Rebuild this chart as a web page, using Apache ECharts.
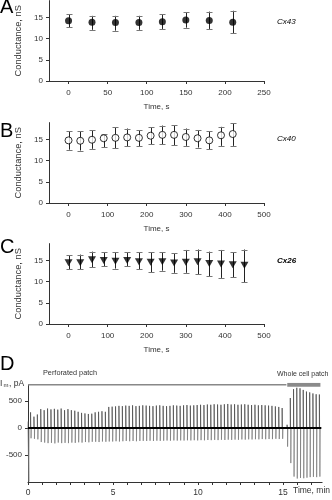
<!DOCTYPE html>
<html>
<head>
<meta charset="utf-8">
<script src="https://cdn.jsdelivr.net/npm/echarts@6/dist/echarts.min.js"></script>
<style>
html,body{margin:0;padding:0;background:#fff;}
#chart{width:332px;height:500px;}
</style>
</head>
<body>
<div id="chart"></div>
<script>
// ---- Panel A: Cx43 conductance (mean with error range), nS ----
const timeA  = [0, 30, 60, 90, 120, 150, 180, 210];
const meanA  = [14.25, 13.9, 13.8, 13.8, 14.0, 14.4, 14.3, 13.9];
const upperA = [15.8, 15.4, 15.4, 15.4, 15.8, 16.3, 16.4, 16.6];
const lowerA = [12.7, 12.1, 11.9, 12.1, 12.3, 12.6, 12.3, 11.3];

// ---- Panel B: Cx40 ----
const timeB  = [0, 30, 60, 90, 120, 150, 180, 210, 240, 270, 300, 330, 360, 390, 420];
const meanB  = [14.8, 14.7, 14.95, 15.3, 15.4, 15.5, 15.4, 15.9, 16.1, 16.1, 15.6, 15.3, 14.8, 16.0, 16.3];
const upperB = [17.0, 16.9, 17.2, 16.2, 17.9, 17.6, 17.2, 17.9, 18.3, 18.4, 17.6, 17.2, 17.0, 18.0, 18.8];
const lowerB = [12.6, 12.4, 12.8, 13.2, 12.9, 13.4, 13.4, 13.9, 13.9, 13.7, 13.5, 13.1, 12.7, 13.5, 13.5];

// ---- Panel C: Cx26 ----
const timeC  = [0, 30, 60, 90, 120, 150, 180, 210, 240, 270, 300, 330, 360, 390, 420, 450];
const meanC  = [14.45, 14.45, 15.2, 15.0, 14.8, 15.0, 14.7, 14.6, 14.7, 14.4, 14.6, 14.7, 14.3, 14.2, 14.0, 13.9];
const upperC = [16.2, 16.4, 17.1, 16.9, 16.9, 16.9, 16.9, 16.9, 16.9, 16.7, 17.5, 17.6, 17.1, 17.5, 16.9, 17.6];
const lowerC = [13.0, 12.9, 13.4, 13.6, 13.1, 13.6, 12.9, 12.2, 12.6, 12.1, 12.1, 11.7, 11.3, 10.9, 11.0, 9.9];

const condTicks = [0, 5, 10, 15];
const timeTicks250 = [0, 50, 100, 150, 200, 250];
const timeTicks500 = [0, 100, 200, 300, 400, 500];

// ---- Panel D: junctional current trace, pA (time in min) ----
// Perforated-patch pulses, one every 12 s starting at 0.15 min
const perfStart = 0.15, perfStep = 0.2;
const perfPos = [290, 210, 250, 350, 330, 360, 345, 355, 340, 360, 330, 350,
                 330, 320, 300, 280, 270, 260, 265, 290, 300, 310, 300, 390, 395,
                 400, 410, 405, 415, 410, 420, 405, 410, 420, 415, 410, 405, 415, 420, 410,
                 405, 410, 420, 415, 410, 420, 425, 415, 420, 425,
                 430, 425, 435, 430, 440, 435, 430, 440, 445, 435, 440, 430, 435, 440, 430,
                 425, 430, 420, 425, 420, 415, 410, 400, 390, 370];
const perfNeg = [-190, -200, -210, -260, -270, -280, -275, -285, -270, -280, -275, -280,
                 -270, -275, -265, -270, -260, -265, -255, -255, -260, -250, -255, -250, -250,
                 -245, -250, -245, -240, -245, -240, -245, -240, -238, -240, -236, -240, -235, -238, -235,
                 -232, -235, -230, -233, -230, -232, -228, -230, -226, -230,
                 -225, -228, -222, -225, -220, -224, -218, -222, -216, -220, -215, -218, -212, -215, -210,
                 -212, -208, -210, -205, -208, -204, -206, -200, -204, -200];
// Whole-cell pulses
const wholeStart = 15.43, wholeStep = 0.19;
const wholePos = [555, 720, 745, 735, 705, 675, 660, 640, 625, 620];
const wholeNeg = [-650, -900, -935, -925, -930, -920, -910, -905, -910, -900];
// Single transients: seal artefact at the start and the break-in step
const eventT   = [0.02, 15.24];
const eventPos = [120, 60];
const eventNeg = [-990, -345];
const currentTicks = [-500, 0, 500];
const minuteLabels = [0, 5, 10, 15];

const FONT = 'Liberation Sans, Arial, sans-serif';
const AXIS = '#333';

function allPulses() {
  const pulses = [];
  eventT.forEach((t, i) => pulses.push([t, eventPos[i], eventNeg[i]]));
  perfPos.forEach((p, i) => pulses.push([perfStart + i * perfStep, p, perfNeg[i]]));
  wholePos.forEach((p, i) => pulses.push([wholeStart + i * wholeStep, p, wholeNeg[i]]));
  return pulses.sort((a, b) => a[0] - b[0]);
}
// outward deflections and inward deflections are drawn as two traces
function spikeData(which) {
  const pts = [[0, 0]];
  allPulses().forEach(([t, p, n]) => {
    if (which === 'up') pts.push([t, 0], [t, p], [t + 0.012, 0]);
    else pts.push([t + 0.03, 0], [t + 0.03, n], [t + 0.042, 0]);
  });
  pts.push([17.25, 0]);
  return pts;
}

function errorBars(idx, times, lo, hi, color) {
  return {
    type: 'custom', xAxisIndex: idx, yAxisIndex: idx, z: 2, silent: true,
    data: times.map((t, i) => [t, lo[i], hi[i]]),
    renderItem(params, api) {
      const x = api.value(0);
      const a = api.coord([x, api.value(1)]);
      const b = api.coord([x, api.value(2)]);
      const cx = Math.round(a[0]) + 0.5;
      const w = 3;
      return {
        type: 'group', children: [
          { type: 'line', shape: { x1: cx, y1: a[1], x2: cx, y2: b[1] }, style: { stroke: color, lineWidth: 1 } },
          { type: 'line', shape: { x1: cx - w, y1: Math.round(a[1]) + 0.5, x2: cx + w, y2: Math.round(a[1]) + 0.5 }, style: { stroke: '#777', lineWidth: 1 } },
          { type: 'line', shape: { x1: cx - w, y1: Math.round(b[1]) + 0.5, x2: cx + w, y2: Math.round(b[1]) + 0.5 }, style: { stroke: '#777', lineWidth: 1 } }
        ]
      };
    }
  };
}

function condY(idx) {
  return {
    type: 'value', gridIndex: idx, min: 0, max: 19,
    axisLine: { show: true, onZero: false, lineStyle: { color: AXIS, width: 1 } },
    axisTick: { show: true, length: 3, customValues: condTicks, lineStyle: { color: AXIS } },
    axisLabel: { customValues: condTicks, fontSize: 8, color: '#333', margin: 6, fontFamily: FONT },
    splitLine: { show: false },
    name: 'Conductance, nS', nameLocation: 'middle', nameGap: 20,
    nameTextStyle: { fontSize: 9.3, color: '#333', fontFamily: FONT }
  };
}
function timeX(idx, min, max, ticks) {
  return {
    type: 'value', gridIndex: idx, min: min, max: max,
    axisLine: { show: true, onZero: false, lineStyle: { color: AXIS, width: 1 } },
    axisTick: { show: true, length: 3, customValues: ticks, lineStyle: { color: AXIS } },
    axisLabel: { customValues: ticks, fontSize: 8, color: '#333', margin: 8, fontFamily: FONT },
    splitLine: { show: false },
    name: 'Time, s', nameLocation: 'middle', nameGap: 22,
    nameTextStyle: { fontSize: 8, color: '#333', fontFamily: FONT }
  };
}

const minuteTicks = [];
for (let s = 0; s <= 1000; s += 50) minuteTicks.push(s / 60);

const option = {
  animation: false,
  backgroundColor: '#fff',
  grid: [
    { left: 49, top: 0.6, width: 215, height: 80.4 },
    { left: 49, top: 122.6, width: 215, height: 80.4 },
    { left: 49, top: 243.6, width: 215, height: 80.4 },
    { left: 28, top: 384.8, width: 294.1, height: 97.2 }
  ],
  xAxis: [
    timeX(0, -25, 250, timeTicks250),
    timeX(1, -50, 500, timeTicks500),
    timeX(2, -50, 500, timeTicks500),
    {
      type: 'value', gridIndex: 3, min: 0, max: 17.3,
      axisLine: { show: true, onZero: false, lineStyle: { color: AXIS, width: 1 } },
      axisTick: { show: true, length: 3, customValues: minuteTicks, lineStyle: { color: AXIS } },
      axisLabel: { customValues: minuteLabels, fontSize: 8.5, color: '#333', margin: 6, fontFamily: FONT },
      splitLine: { show: false }
    }
  ],
  yAxis: [
    condY(0), condY(1), condY(2),
    {
      type: 'value', gridIndex: 3, min: -1000, max: 800,
      axisLine: { show: true, onZero: false, lineStyle: { color: AXIS, width: 1 } },
      axisTick: { show: true, length: 3, customValues: currentTicks, lineStyle: { color: AXIS } },
      axisLabel: { customValues: currentTicks, fontSize: 8, color: '#333', margin: 6, fontFamily: FONT },
      splitLine: { show: false }
    }
  ],
  series: [
    errorBars(0, timeA, lowerA, upperA, '#222'),
    { type: 'scatter', xAxisIndex: 0, yAxisIndex: 0, z: 3, symbol: 'circle', symbolSize: 7,
      itemStyle: { color: '#000' }, data: timeA.map((t, i) => [t, meanA[i]]) },
    errorBars(1, timeB, lowerB, upperB, '#222'),
    { type: 'scatter', xAxisIndex: 1, yAxisIndex: 1, z: 3, symbol: 'circle', symbolSize: 7,
      itemStyle: { color: '#fff', borderColor: '#000', borderWidth: 1 }, data: timeB.map((t, i) => [t, meanB[i]]) },
    errorBars(2, timeC, lowerC, upperC, '#222'),
    { type: 'scatter', xAxisIndex: 2, yAxisIndex: 2, z: 3, symbol: 'triangle', symbolRotate: 180, symbolSize: [8, 7],
      itemStyle: { color: '#000' }, data: timeC.map((t, i) => [t, meanC[i]]) },
    { type: 'line', xAxisIndex: 3, yAxisIndex: 3, symbol: 'none', z: 2,
      lineStyle: { color: '#444', width: 0.7 }, data: spikeData('up') },
    { type: 'line', xAxisIndex: 3, yAxisIndex: 3, symbol: 'none', z: 2,
      lineStyle: { color: '#777', width: 0.7 }, data: spikeData('down') },
    { type: 'line', xAxisIndex: 3, yAxisIndex: 3, symbol: 'none', z: 3,
      lineStyle: { color: '#000', width: 2 }, data: [[0, 0], [17.25, 0]] },
    // recording-mode bars above the trace
    { type: 'line', xAxisIndex: 3, yAxisIndex: 3, symbol: 'none', z: 3,
      lineStyle: { color: '#888', width: 1.5 }, data: [[0, 800], [15.2, 800]] },
    { type: 'line', xAxisIndex: 3, yAxisIndex: 3, symbol: 'none', z: 3,
      lineStyle: { color: '#8a8a8a', width: 4 }, data: [[15.25, 800], [17.2, 800]] }
  ],
  graphic: [
    { type: 'text', left: 0, top: -3, style: { text: 'A', font: '20px ' + FONT, fill: '#000' } },
    { type: 'text', left: 0, top: 121, style: { text: 'B', font: '20px ' + FONT, fill: '#000' } },
    { type: 'text', left: 0, top: 237, style: { text: 'C', font: '20px ' + FONT, fill: '#000' } },
    { type: 'text', left: 0, top: 354, style: { text: 'D', font: '20px ' + FONT, fill: '#000' } },
    { type: 'text', left: 277, top: 18, style: { text: 'Cx43', font: 'italic 8px ' + FONT, fill: '#000' } },
    { type: 'text', left: 277, top: 135, style: { text: 'Cx40', font: 'italic 8px ' + FONT, fill: '#000' } },
    { type: 'text', left: 277, top: 257, style: { text: 'Cx26', font: 'italic bold 8px ' + FONT, fill: '#000' } },
    { type: 'text', left: 43, top: 369, style: { text: 'Perforated patch', font: '7.3px ' + FONT, fill: '#333' } },
    { type: 'text', left: 277, top: 371, style: { text: 'Whole cell patch', font: '7px ' + FONT, fill: '#333' } },
    { type: 'text', left: 0, top: 379, style: { text: 'I', font: '8.5px ' + FONT, fill: '#333' } },
    { type: 'text', left: 3.5, top: 382, style: { text: 'm', font: '6px ' + FONT, fill: '#333' } },
    { type: 'text', left: 9, top: 379, style: { text: ', pA', font: '8.5px ' + FONT, fill: '#333' } },
    { type: 'text', left: 293, top: 486, style: { text: 'Time, min', font: '8.5px ' + FONT, fill: '#333' } }
  ]
};

const chart = echarts.init(document.getElementById('chart'), null, { renderer: 'canvas' });
chart.setOption(option);
</script>
</body>
</html>
